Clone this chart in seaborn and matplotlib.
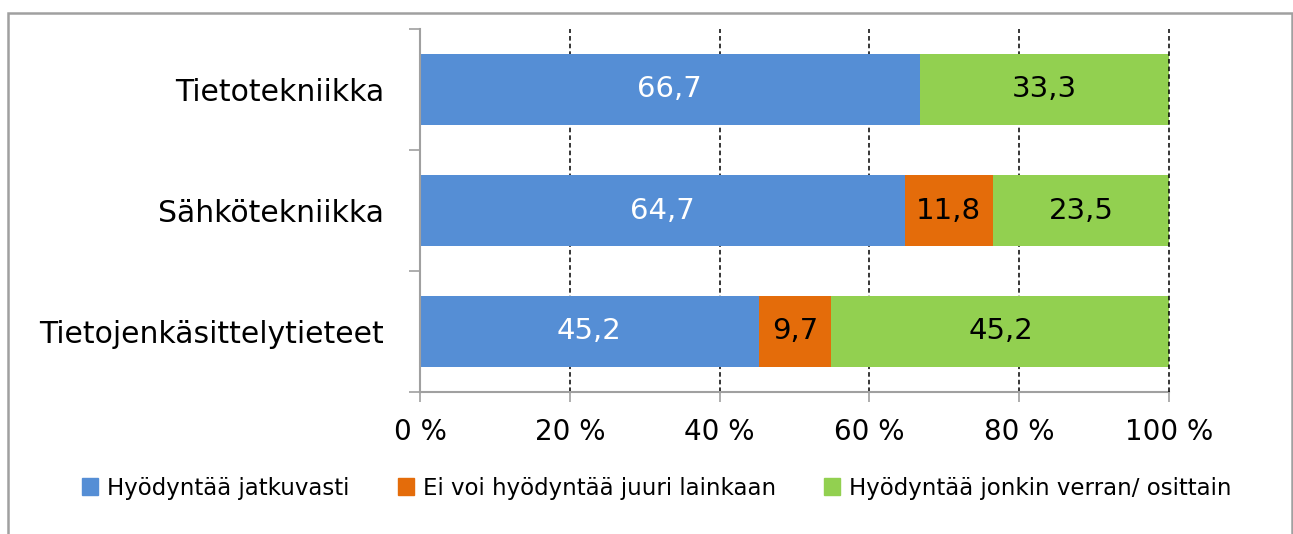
import matplotlib
matplotlib.use("Agg")
import matplotlib.pyplot as plt
import matplotlib.patches as mpatches
from matplotlib.ticker import FixedLocator
import numpy as np
import pandas as pd
import seaborn as sns

categories = ["Tietotekniikka", "Sähkötekniikka", "Tietojenkäsittelytieteet"]
series_names = ["Hyödyntää jatkuvasti", "Ei voi hyödyntää juuri lainkaan",
                "Hyödyntää jonkin verran/ osittain"]
jatkuvasti = [66.7, 64.7, 45.2]
ei_lainkaan = [0.0, 11.8, 9.7]
osittain = [33.3, 23.5, 45.2]
xticks = [0, 20, 40, 60, 80, 100]
xtick_labels = ["0 %", "20 %", "40 %", "60 %", "80 %", "100 %"]
colors = ["#558ED5", "#E46C0A", "#92D050"]
label_colors = ["white", "black", "black"]

sns.set_theme(style="white")
plt.rcParams["font.family"] = ["DejaVu Sans"]
plt.rcParams["text.color"] = "black"

fig = plt.figure(figsize=(12.93, 5.34), dpi=100)
ax = fig.add_axes([420/1293, 1-392/534, (1169-420)/1293, (392-29)/534])

vals = np.array([jatkuvasti, ei_lainkaan, osittain])
cum = np.cumsum(vals, axis=0)
starts = cum - vals

# draw from the longest cumulative to shortest so segments appear stacked
for i in range(2, -1, -1):
    df = pd.DataFrame({"cat": categories, "val": cum[i]})
    sns.barplot(data=df, y="cat", x="val", orient="h", color=colors[i],
                saturation=1, width=0.59, ax=ax, zorder=3 + (2 - i),
                edgecolor="none", linewidth=0)

for i in range(3):
    for j, c in enumerate(categories):
        v = vals[i][j]
        if v <= 0:
            continue
        ax.text(starts[i][j] + v / 2, j, f"{v:.1f}".replace(".", ","),
                ha="center", va="center", fontsize=21, color=label_colors[i],
                zorder=10)

ax.set_xlim(0, 100)
ax.set_ylim(2.5, -0.5)
ax.set_xticks(xticks)
ax.set_xticklabels(xtick_labels, fontsize=20)
ax.set_yticks(range(len(categories)))
ax.set_yticklabels(categories, fontsize=21.5)
ax.set_xlabel("")
ax.set_ylabel("")
ax.yaxis.set_minor_locator(FixedLocator([-0.5, 0.5, 1.5, 2.5]))
ax.tick_params(axis="y", which="major", length=0, pad=26, colors="black")
ax.tick_params(axis="y", which="minor", length=8, width=1.2, color="#A0A0A0", left=True)
ax.tick_params(axis="x", which="major", length=7, width=1.2, color="#A0A0A0",
               pad=12, bottom=True, labelcolor="black")

for x in xticks[1:]:
    ax.axvline(x, color="black", linestyle=(0, (3, 2)), linewidth=1.1,
               zorder=8 if x == 100 else 1, clip_on=False)

for s in ["top", "right"]:
    ax.spines[s].set_visible(False)
for s in ["left", "bottom"]:
    ax.spines[s].set_color("#A0A0A0")
    ax.spines[s].set_linewidth(1.5)
    ax.spines[s].set_zorder(6)

handles = [mpatches.Patch(color=c, label=n) for c, n in zip(colors, series_names)]
leg = fig.legend(handles=handles, loc="center", bbox_to_anchor=(657/1293, 1-488/534),
                 ncol=3, frameon=False, handlelength=0.7,
                 handleheight=0.7, handletextpad=0.4, columnspacing=2.1,
                 prop={"family": ["DejaVu Sans"], "size": 16.5})
for t in leg.get_texts():
    t.set_color("black")

border = mpatches.Rectangle((8/1293, -0.2), (1292-8)/1293, 1.2 - 13/534,
                            transform=fig.transFigure, fill=False,
                            edgecolor="#A0A0A0", linewidth=1.8, clip_on=False)
fig.patches.append(border)

fig.savefig("out.png", dpi=100)
